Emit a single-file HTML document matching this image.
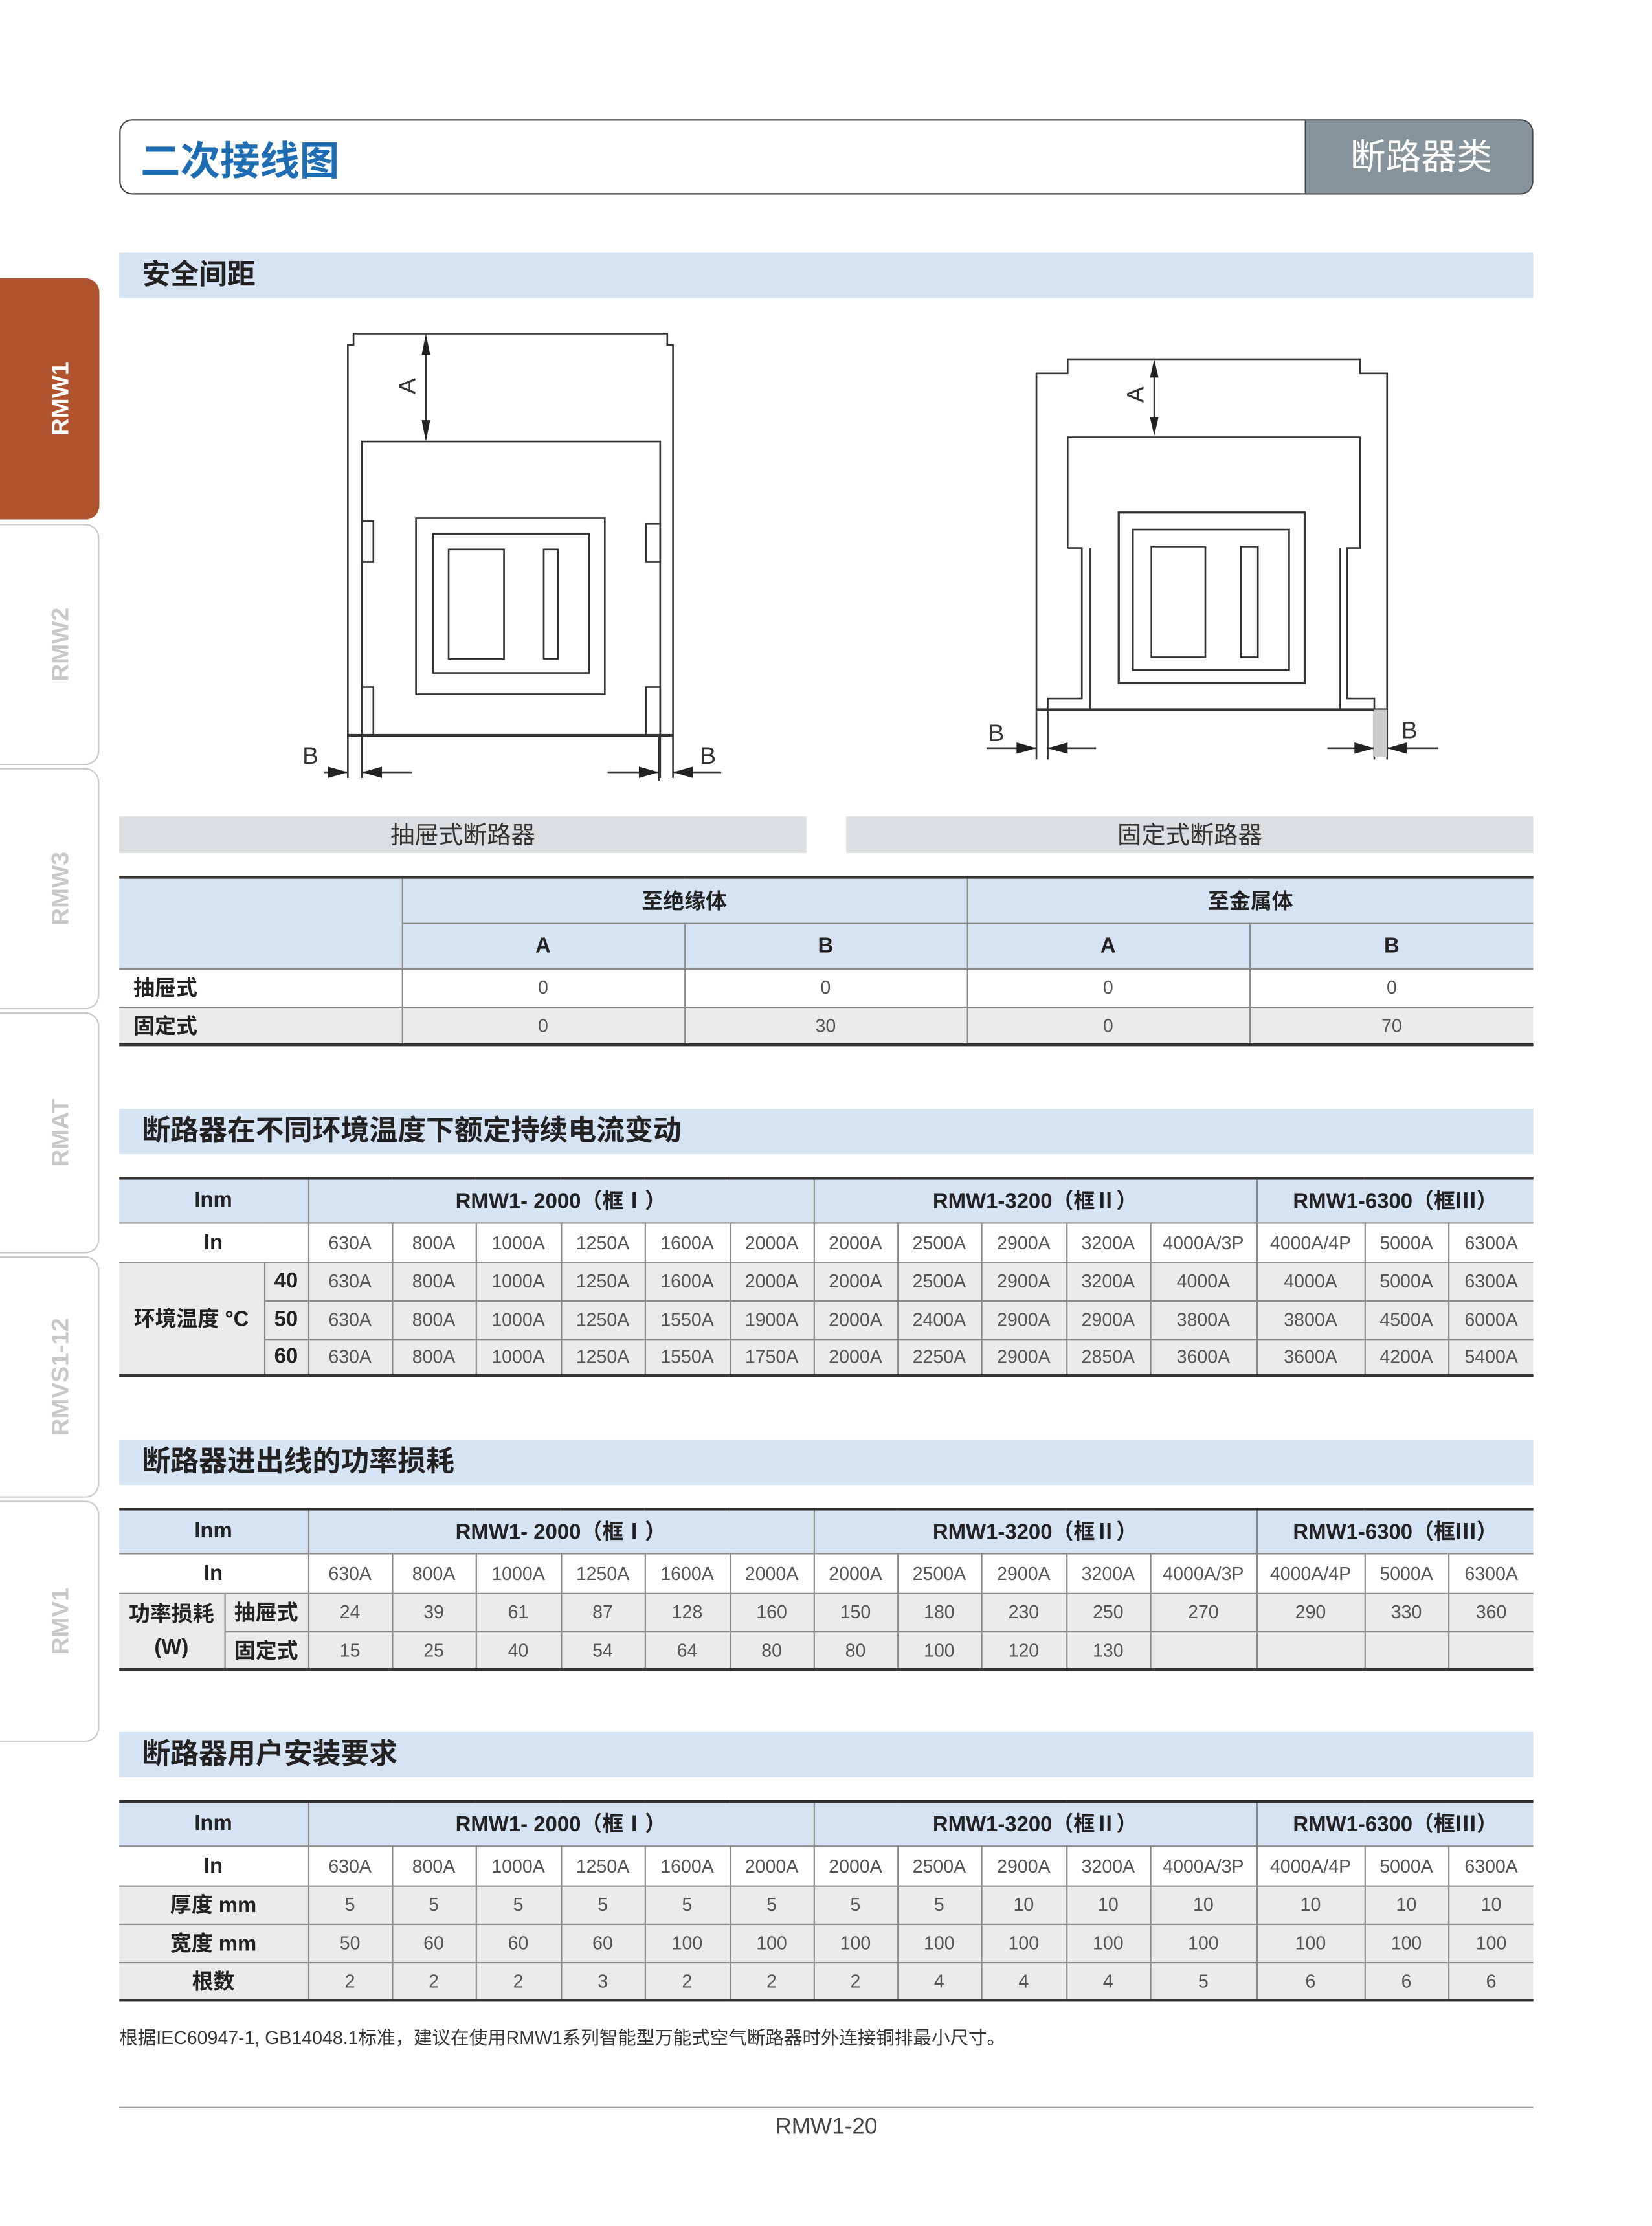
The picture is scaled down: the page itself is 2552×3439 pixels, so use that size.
<!DOCTYPE html>
<html><head><meta charset="utf-8">
<style>
html,body{margin:0;padding:0;background:#fff;}
body{width:2552px;height:3438px;overflow:hidden;position:relative;font-family:"Liberation Sans","Noto Sans CJK SC",sans-serif;}
#w{position:absolute;left:0;top:0;width:1164px;height:1568px;transform:scale(2.1932);transform-origin:0 0;}
.a{position:absolute;}
.bar{position:absolute;left:84px;width:996px;height:32px;background:#d6e3f3;font-weight:bold;font-size:20px;color:#222;line-height:32px;padding-left:16px;box-sizing:border-box;}
.tab{position:absolute;left:0;width:70px;height:170px;border:1px solid #c9c9c9;border-left:none;border-radius:0 10px 10px 0;box-sizing:border-box;background:#fff;}
.tab span{position:absolute;left:62%;top:50%;transform:translate(-50%,-50%) rotate(-90deg);font-weight:bold;font-size:17px;color:#c8c8c8;white-space:nowrap;}
.cap{position:absolute;top:575px;height:26px;background:#dcdfe2;font-size:17px;color:#333;text-align:center;line-height:27px;}
table{position:absolute;left:84px;width:996px;border-collapse:collapse;table-layout:fixed;border-top:2px solid #333;border-bottom:2px solid #333;}
td{border:1px solid #8a8a8a;text-align:center;padding:0;font-size:13px;color:#555;overflow:hidden;white-space:nowrap;}
tr td:first-child{border-left:none;}
tr td:last-child{border-right:none;}
tr.h td{background:#d6e3f3;font-weight:bold;font-size:15px;color:#222;}
tr.g td{background:#ebebeb;}
td.l{font-weight:bold;font-size:15px;color:#222;}
</style></head><body><div id="w">

<div class="a" style="left:84px;top:84px;width:996px;height:53px;border:1.5px solid #444;border-radius:9px;box-sizing:border-box;overflow:hidden;">
 <div class="a" style="left:14px;top:7px;font-size:28px;font-weight:bold;color:#1e6db3;">二次接线图</div>
 <div class="a" style="left:834px;top:0;width:162px;height:53px;background:#87939a;border-left:1.5px solid #444;color:#fff;font-size:25px;line-height:52px;text-align:center;">断路器类</div>
</div>

<div class="tab" style="top:196px;background:#b0532f;border-color:#b0532f;"><span style="color:#fff">RMW1</span></div>
<div class="tab" style="top:369px;"><span>RMW2</span></div>
<div class="tab" style="top:541px;"><span>RMW3</span></div>
<div class="tab" style="top:713px;"><span>RMAT</span></div>
<div class="tab" style="top:885px;"><span>RMVS1-12</span></div>
<div class="tab" style="top:1057px;"><span>RMV1</span></div>

<div class="bar" style="top:178px;">安全间距</div>

<svg class="a" style="left:0;top:0" width="1159" height="620" viewBox="0 0 1159 620">
<g fill="none" stroke="#333" stroke-width="1.2">
 <polyline points="245,548 245,243 249,243 249,235 470,235 470,243 474,243 474,548"/>
 <line x1="245" y1="518" x2="474" y2="518" stroke-width="2"/>
 <polyline points="255,548 255,311 465,311 465,548"/>
 <rect x="255" y="367" width="8" height="29"/><rect x="455" y="369" width="10" height="27"/>
 <rect x="255" y="484" width="8" height="34"/><rect x="455" y="484" width="10" height="34"/>
 <rect x="293" y="365" width="133" height="124"/>
 <rect x="305" y="376" width="110" height="98"/>
 <rect x="316" y="387" width="39" height="77"/>
 <rect x="383" y="387" width="10" height="77"/>
 <line x1="300" y1="238" x2="300" y2="308"/>
 <line x1="228" y1="544" x2="245" y2="544"/><line x1="255" y1="544" x2="290" y2="544"/>
 <line x1="428" y1="544" x2="464" y2="544"/><line x1="474" y1="544" x2="508" y2="544"/>
 <line x1="464" y1="518" x2="464" y2="550"/>
 <polyline points="730,535 730,263 752,263 752,253 958,253 958,263 977,263 977,535"/>
 <line x1="730" y1="500" x2="977" y2="500" stroke-width="2"/>
 <polyline points="752,386 752,308 958,308 958,386 949,386 949,492 968,492 968,535"/>
 <polyline points="752,386 762,386 762,492 738,492 738,535"/>
 <line x1="768" y1="386" x2="768" y2="500"/><line x1="944" y1="386" x2="944" y2="500"/>
 <rect x="788" y="361" width="131" height="120" stroke-width="1.5"/>
 <rect x="798" y="373" width="110" height="99"/>
 <rect x="811" y="385" width="38" height="78"/>
 <rect x="874" y="385" width="12" height="78"/>
 <line x1="813" y1="257" x2="813" y2="303"/>
 <line x1="695" y1="527" x2="730" y2="527"/><line x1="738" y1="527" x2="772" y2="527"/>
 <line x1="935" y1="527" x2="968" y2="527"/><line x1="977" y1="527" x2="1013" y2="527"/>
</g>
<rect x="968" y="500" width="9" height="33" fill="#ccc"/>
<g fill="#222">
 <polygon points="300,235 297,250 303,250"/><polygon points="300,311 297,296 303,296"/>
 <polygon points="813,253 810,266 816,266"/><polygon points="813,307 810,294 816,294"/>
 <polygon points="245,544 231,540 231,548"/><polygon points="255,544 269,540 269,548"/>
 <polygon points="464,544 450,540 450,548"/><polygon points="474,544 488,540 488,548"/>
 <polygon points="730,527 716,523 716,531"/><polygon points="738,527 752,523 752,531"/>
 <polygon points="968,527 954,523 954,531"/><polygon points="977,527 991,523 991,531"/>
</g>
<g font-family="Liberation Sans, sans-serif" font-size="17" fill="#333">
 <text x="288" y="272" transform="rotate(-90 288 272)" text-anchor="middle" dominant-baseline="middle">A</text>
 <text x="801" y="278" transform="rotate(-90 801 278)" text-anchor="middle" dominant-baseline="middle">A</text>
 <text x="213" y="538">B</text><text x="493" y="538">B</text>
 <text x="696" y="522">B</text><text x="987" y="520">B</text>
</g>
</svg>

<div class="cap" style="left:84px;width:484px;">抽屉式断路器</div>
<div class="cap" style="left:596px;width:484px;">固定式断路器</div>

<table style="top:617px;">
<colgroup><col style="width:199px"><col style="width:199px"><col style="width:199px"><col style="width:199px"><col style="width:200px"></colgroup>
<tr class="h" style="height:32px"><td rowspan="2"></td><td colspan="2">至绝缘体</td><td colspan="2">至金属体</td></tr>
<tr class="h" style="height:32px"><td>A</td><td>B</td><td>A</td><td>B</td></tr>
<tr style="height:27px"><td class="l" style="text-align:left;padding-left:10px">抽屉式</td><td>0</td><td>0</td><td>0</td><td>0</td></tr>
<tr class="g" style="height:27px"><td class="l" style="text-align:left;padding-left:10px">固定式</td><td>0</td><td>30</td><td>0</td><td>70</td></tr>
</table>

<div class="bar" style="top:781px;">断路器在不同环境温度下额定持续电流变动</div>

<table style="top:829px;">
<colgroup><col style="width:102px"><col style="width:31px"><col style="width:59px"><col style="width:59px"><col style="width:60px"><col style="width:59px"><col style="width:60px"><col style="width:59px"><col style="width:59px"><col style="width:59px"><col style="width:60px"><col style="width:59px"><col style="width:75px"><col style="width:76px"><col style="width:59px"><col style="width:60px"></colgroup>
<tr class="h" style="height:31px"><td colspan="2">Inm</td><td colspan="6">RMW1- 2000（框Ⅰ）</td><td colspan="5">RMW1-3200（框Ⅱ）</td><td colspan="3">RMW1-6300（框Ⅲ）</td></tr>
<tr style="height:28px"><td colspan="2" class="l">In</td><td>630A</td><td>800A</td><td>1000A</td><td>1250A</td><td>1600A</td><td>2000A</td><td>2000A</td><td>2500A</td><td>2900A</td><td>3200A</td><td>4000A/3P</td><td>4000A/4P</td><td>5000A</td><td>6300A</td></tr>
<tr class="g" style="height:27px"><td rowspan="3" class="l" style="background:#ebebeb">环境温度 °C</td><td class="l">40</td><td>630A</td><td>800A</td><td>1000A</td><td>1250A</td><td>1600A</td><td>2000A</td><td>2000A</td><td>2500A</td><td>2900A</td><td>3200A</td><td>4000A</td><td>4000A</td><td>5000A</td><td>6300A</td></tr>
<tr class="g" style="height:27px"><td class="l">50</td><td>630A</td><td>800A</td><td>1000A</td><td>1250A</td><td>1550A</td><td>1900A</td><td>2000A</td><td>2400A</td><td>2900A</td><td>2900A</td><td>3800A</td><td>3800A</td><td>4500A</td><td>6000A</td></tr>
<tr class="g" style="height:26px"><td class="l">60</td><td>630A</td><td>800A</td><td>1000A</td><td>1250A</td><td>1550A</td><td>1750A</td><td>2000A</td><td>2250A</td><td>2900A</td><td>2850A</td><td>3600A</td><td>3600A</td><td>4200A</td><td>5400A</td></tr>
</table>

<div class="bar" style="top:1014px;">断路器进出线的功率损耗</div>

<table style="top:1062px;">
<colgroup><col style="width:74px"><col style="width:59px"><col style="width:59px"><col style="width:59px"><col style="width:60px"><col style="width:59px"><col style="width:60px"><col style="width:59px"><col style="width:59px"><col style="width:59px"><col style="width:60px"><col style="width:59px"><col style="width:75px"><col style="width:76px"><col style="width:59px"><col style="width:60px"></colgroup>
<tr class="h" style="height:31px"><td colspan="2">Inm</td><td colspan="6">RMW1- 2000（框Ⅰ）</td><td colspan="5">RMW1-3200（框Ⅱ）</td><td colspan="3">RMW1-6300（框Ⅲ）</td></tr>
<tr style="height:28px"><td colspan="2" class="l">In</td><td>630A</td><td>800A</td><td>1000A</td><td>1250A</td><td>1600A</td><td>2000A</td><td>2000A</td><td>2500A</td><td>2900A</td><td>3200A</td><td>4000A/3P</td><td>4000A/4P</td><td>5000A</td><td>6300A</td></tr>
<tr class="g" style="height:27px"><td rowspan="2" class="l" style="background:#ebebeb;white-space:normal;line-height:23px">功率损耗<br>(W)</td><td class="l">抽屉式</td><td>24</td><td>39</td><td>61</td><td>87</td><td>128</td><td>160</td><td>150</td><td>180</td><td>230</td><td>250</td><td>270</td><td>290</td><td>330</td><td>360</td></tr>
<tr class="g" style="height:27px"><td class="l">固定式</td><td>15</td><td>25</td><td>40</td><td>54</td><td>64</td><td>80</td><td>80</td><td>100</td><td>120</td><td>130</td><td></td><td></td><td></td><td></td></tr>
</table>

<div class="bar" style="top:1220px;">断路器用户安装要求</div>

<table style="top:1268px;">
<colgroup><col style="width:133px"><col style="width:59px"><col style="width:59px"><col style="width:60px"><col style="width:59px"><col style="width:60px"><col style="width:59px"><col style="width:59px"><col style="width:59px"><col style="width:60px"><col style="width:59px"><col style="width:75px"><col style="width:76px"><col style="width:59px"><col style="width:60px"></colgroup>
<tr class="h" style="height:31px"><td>Inm</td><td colspan="6">RMW1- 2000（框Ⅰ）</td><td colspan="5">RMW1-3200（框Ⅱ）</td><td colspan="3">RMW1-6300（框Ⅲ）</td></tr>
<tr style="height:28px"><td class="l">In</td><td>630A</td><td>800A</td><td>1000A</td><td>1250A</td><td>1600A</td><td>2000A</td><td>2000A</td><td>2500A</td><td>2900A</td><td>3200A</td><td>4000A/3P</td><td>4000A/4P</td><td>5000A</td><td>6300A</td></tr>
<tr class="g" style="height:27px"><td class="l">厚度 mm</td><td>5</td><td>5</td><td>5</td><td>5</td><td>5</td><td>5</td><td>5</td><td>5</td><td>10</td><td>10</td><td>10</td><td>10</td><td>10</td><td>10</td></tr>
<tr class="g" style="height:27px"><td class="l">宽度 mm</td><td>50</td><td>60</td><td>60</td><td>60</td><td>100</td><td>100</td><td>100</td><td>100</td><td>100</td><td>100</td><td>100</td><td>100</td><td>100</td><td>100</td></tr>
<tr class="g" style="height:27px"><td class="l">根数</td><td>2</td><td>2</td><td>2</td><td>3</td><td>2</td><td>2</td><td>2</td><td>4</td><td>4</td><td>4</td><td>5</td><td>6</td><td>6</td><td>6</td></tr>
</table>

<div class="a" style="left:84px;top:1425px;font-size:13px;color:#333;">根据IEC60947-1, GB14048.1标准，建议在使用RMW1系列智能型万能式空气断路器时外连接铜排最小尺寸。</div>

<div class="a" style="left:84px;top:1484px;width:996px;height:1px;background:#999;"></div>
<div class="a" style="left:482px;top:1490px;width:200px;text-align:center;font-size:16px;color:#444;">RMW1-20</div>

</div></body></html>
